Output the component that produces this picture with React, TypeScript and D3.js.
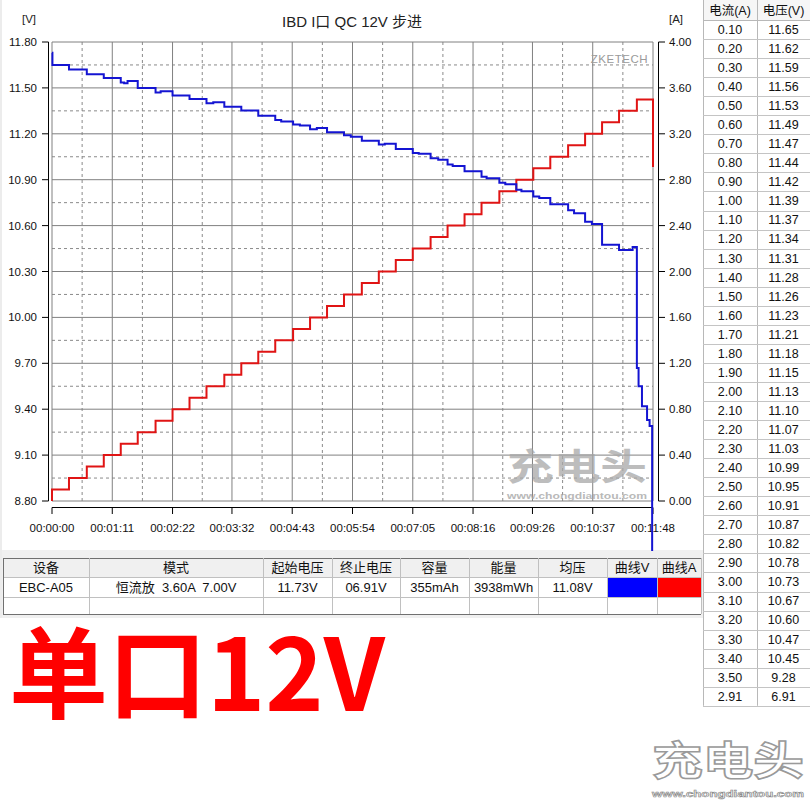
import React from "react";
import * as d3 from "d3";

// ---------- data ----------
const stepTimes = [0, 20, 41, 61, 81, 101, 122, 142, 162, 182, 203, 223, 243, 263, 284, 304, 324, 344, 365, 385, 405, 425, 446, 466, 486, 506, 527, 547, 567, 587, 608, 628, 648, 668, 689];
const stepCurrents = [0.1, 0.2, 0.3, 0.4, 0.5, 0.6, 0.7, 0.8, 0.9, 1.0, 1.1, 1.2, 1.3, 1.4, 1.5, 1.6, 1.7, 1.8, 1.9, 2.0, 2.1, 2.2, 2.3, 2.4, 2.5, 2.6, 2.7, 2.8, 2.9, 3.0, 3.1, 3.2, 3.3, 3.4, 3.5];
const endTime = 708;
const endCurrent = 2.91;

const voltTimes = [0, 0.5, 20, 41, 61, 81, 85, 89, 101, 122, 128, 142, 162, 182, 190, 203, 223, 243, 263, 270, 284, 292, 304, 312, 324, 344, 352, 365, 385, 392, 405, 425, 432, 446, 455, 466, 472, 486, 506, 512, 527, 534, 547, 553, 567, 574, 587, 608, 615, 628, 636, 648, 668, 684, 689, 691, 695, 701, 704, 707, 708];
const voltValues = [11.73, 11.65, 11.62, 11.59, 11.565, 11.535, 11.53, 11.545, 11.5, 11.47, 11.478, 11.45, 11.427, 11.4, 11.406, 11.377, 11.353, 11.318, 11.29, 11.28, 11.26, 11.255, 11.23, 11.238, 11.21, 11.19, 11.18, 11.155, 11.13, 11.135, 11.1, 11.075, 11.07, 11.04, 11.03, 11.0, 10.99, 10.955, 10.92, 10.91, 10.88, 10.87, 10.835, 10.825, 10.79, 10.78, 10.74, 10.7, 10.68, 10.625, 10.61, 10.475, 10.44, 10.46, 9.67, 9.55, 9.42, 9.33, 9.29, 6.91, 6.91];

const leftTicks = [8.8, 9.1, 9.4, 9.7, 10.0, 10.3, 10.6, 10.9, 11.2, 11.5, 11.8];
const rightTicks = [0, 0.4, 0.8, 1.2, 1.6, 2.0, 2.4, 2.8, 3.2, 3.6, 4.0];
const timeTicks = [0, 71, 142, 212, 283, 354, 425, 496, 566, 637, 708];

const tableCurrents = [0.1, 0.2, 0.3, 0.4, 0.5, 0.6, 0.7, 0.8, 0.9, 1.0, 1.1, 1.2, 1.3, 1.4, 1.5, 1.6, 1.7, 1.8, 1.9, 2.0, 2.1, 2.2, 2.3, 2.4, 2.5, 2.6, 2.7, 2.8, 2.9, 3.0, 3.1, 3.2, 3.3, 3.4, 3.5, 2.91];
const tableVolts = [11.65, 11.62, 11.59, 11.56, 11.53, 11.49, 11.47, 11.44, 11.42, 11.39, 11.37, 11.34, 11.31, 11.28, 11.26, 11.23, 11.21, 11.18, 11.15, 11.13, 11.1, 11.07, 11.03, 10.99, 10.95, 10.91, 10.87, 10.82, 10.78, 10.73, 10.67, 10.6, 10.47, 10.45, 9.28, 6.91];

const infoHeaders = ["设备", "模式", "起始电压", "终止电压", "容量", "能量", "均压", "曲线V", "曲线A"];
const infoValues = ["EBC-A05", "恒流放  3.60A  7.00V", "11.73V", "06.91V", "355mAh", "3938mWh", "11.08V", "", ""];

const title = "IBD I口 QC 12V 步进";
const bigLabel = "单口12V";

// ---------- layout ----------
const W = 810, H = 800;
const PL = 52, PR = 653, PT = 42, PB = 501;
const FONT = "'Liberation Sans', Arial, 'Noto Sans CJK SC', sans-serif";
const BLUE = "#1414d2";
const RED = "#e01414";

function fmtTime(s: number) {
  const h = Math.floor(s / 3600), m = Math.floor((s % 3600) / 60), sec = Math.round(s % 60);
  const p = (n: number) => String(n).padStart(2, "0");
  return `${p(h)}:${p(m)}:${p(sec)}`;
}

export default function App() {
  const x = d3.scaleLinear().domain([0, endTime]).range([PL, PR]);
  const yV = d3.scaleLinear().domain([8.8, 11.8]).range([PB, PT]);
  const yA = d3.scaleLinear().domain([0, 4]).range([PB, PT]);

  const redPts: [number, number][] = [[0, 0]];
  stepTimes.forEach((t, i) => redPts.push([t, stepCurrents[i]]));
  redPts.push([endTime, stepCurrents[stepCurrents.length - 1]]);
  redPts.push([endTime, endCurrent]);

  const bluePts: [number, number][] = voltTimes.map((t, i) => [t, voltValues[i]]);

  const redLine = d3.line<[number, number]>().x(d => x(d[0])).y(d => yA(d[1])).curve(d3.curveStepAfter);
  const blueLine = d3.line<[number, number]>().x(d => x(d[0])).y(d => yV(d[1])).curve(d3.curveStepAfter);

  const hMid = leftTicks.slice(0, -1).map((v, i) => (yV(v) + yV(leftTicks[i + 1])) / 2);
  const vMid = timeTicks.slice(0, -1).map((t, i) => (x(t) + x(timeTicks[i + 1])) / 2);

  // bottom info table
  const colX = [3, 89, 263, 332, 400, 469, 538, 607, 657, 701];
  const rowY = [558, 577, 597, 614];

  // right table
  const rtX = [703, 757, 810];
  const rtHeadH = 20, rtRowH = 19.05;

  return (
    <svg width={W} height={H} style={{ position: "absolute", left: 0, top: 0, background: "#fff" }} fontFamily={FONT}>
      <defs>
        <clipPath id="clipBlue"><rect x={0} y={0} width={700} height={551} /></clipPath>
      </defs>
      <rect x={0} y={0} width={W} height={H} fill="#fff" />
      <rect x={0} y={550} width={703} height={68} fill="#f0f0f0" />
      <rect x={0} y={0} width={2} height={618} fill="#ececec" />

      {/* title and units */}
      <text x={352} y={27} textAnchor="middle" fontSize={15} fill="#222">{title}</text>
      <text x={29} y={23} textAnchor="middle" fontSize={11.5} fill="#222">[V]</text>
      <text x={676} y={23} textAnchor="middle" fontSize={11.5} fill="#222">[A]</text>

      {/* grid */}
      {hMid.map((y, i) => <line key={"hm" + i} x1={PL} x2={PR} y1={y} y2={y} stroke="#8a8a8a" strokeDasharray="3,3" />)}
      {vMid.map((xx, i) => <line key={"vm" + i} x1={xx} x2={xx} y1={PT} y2={PB} stroke="#8a8a8a" strokeDasharray="3,3" />)}
      {leftTicks.map((v, i) => <line key={"h" + i} x1={PL} x2={PR} y1={yV(v)} y2={yV(v)} stroke="#808080" />)}
      {timeTicks.map((t, i) => <line key={"v" + i} x1={x(t)} x2={x(t)} y1={PT} y2={PB} stroke="#808080" />)}

      {/* watermarks */}
      <text x={648} y={63} textAnchor="end" fontSize={11.5} fill="#9a9a9a" letterSpacing={0.5}>ZKETECH</text>
      <text x={507} y={480} fontSize={36} fontWeight="bold" fill="#a8a8a8" opacity={0.75} textLength={140} lengthAdjust="spacingAndGlyphs" fontFamily="'Noto Sans CJK SC', sans-serif">充电头</text>
      <text x={507} y={499} fontSize={9} fontWeight="bold" fill="#a8a8a8" opacity={0.8} textLength={140} lengthAdjust="spacingAndGlyphs">www.chongdiantou.com</text>

      {/* axes */}
      <line x1={48.5} x2={48.5} y1={PT} y2={PB} stroke="#000" />
      {leftTicks.map((v, i) => (
        <g key={"lt" + i}>
          <line x1={42} x2={48.5} y1={yV(v)} y2={yV(v)} stroke="#000" />
          <text x={37} y={yV(v)} dy="0.35em" textAnchor="end" fontSize={11.5} fill="#111">{v.toFixed(2)}</text>
        </g>
      ))}
      <line x1={658.5} x2={658.5} y1={PT} y2={PB} stroke="#000" />
      {rightTicks.map((v, i) => (
        <g key={"rt" + i}>
          <line x1={658.5} x2={665} y1={yA(v)} y2={yA(v)} stroke="#000" />
          <text x={669} y={yA(v)} dy="0.35em" textAnchor="start" fontSize={11.5} fill="#111">{v.toFixed(2)}</text>
        </g>
      ))}
      <line x1={PL} x2={PR} y1={507.5} y2={507.5} stroke="#000" />
      {timeTicks.map((t, i) => (
        <g key={"xt" + i}>
          <line x1={x(t)} x2={x(t)} y1={507.5} y2={514} stroke="#000" />
          <text x={x(t)} y={532} textAnchor="middle" fontSize={11.5} fill="#111">{fmtTime(t)}</text>
        </g>
      ))}

      {/* series */}
      <path d={redLine(redPts) || ""} fill="none" stroke={RED} strokeWidth={2} />
      <path d={blueLine(bluePts) || ""} fill="none" stroke={BLUE} strokeWidth={2} clipPath="url(#clipBlue)" />

      {/* bottom info table */}
      <rect x={colX[0]} y={rowY[1]} width={colX[colX.length - 1] - colX[0]} height={rowY[3] - rowY[1]} fill="#fff" />
      <rect x={colX[7] + 1} y={rowY[1] + 1} width={colX[8] - colX[7] - 1} height={rowY[2] - rowY[1] - 1} fill="#0000ff" />
      <rect x={colX[8] + 1} y={rowY[1] + 1} width={colX[9] - colX[8] - 1} height={rowY[2] - rowY[1] - 1} fill="#ff0000" />
      {rowY.map((y, i) => <line key={"br" + i} x1={colX[0]} x2={colX[colX.length - 1]} y1={y + 0.5} y2={y + 0.5} stroke={i === 0 || i === 3 ? "#707070" : "#c0c0c0"} />)}
      {colX.map((cx, i) => <line key={"bc" + i} x1={cx + 0.5} x2={cx + 0.5} y1={rowY[0]} y2={rowY[3]} stroke={i === 0 ? "#707070" : "#c0c0c0"} />)}
      {infoHeaders.map((h, i) => (
        <text key={"ih" + i} x={(colX[i] + colX[i + 1]) / 2} y={567.5} dy="0.35em" textAnchor="middle" fontSize={13} fill="#111">{h}</text>
      ))}
      {infoValues.map((v, i) => (
        <text key={"iv" + i} x={(colX[i] + colX[i + 1]) / 2} y={587} dy="0.35em" textAnchor="middle" fontSize={13} fill="#111" style={{ whiteSpace: "pre" }}>{v}</text>
      ))}

      {/* right table */}
      <rect x={rtX[0]} y={0} width={W - rtX[0]} height={rtHeadH} fill="#f6f6f6" />
      <line x1={rtX[0] + 0.5} x2={rtX[0] + 0.5} y1={0} y2={rtHeadH + rtRowH * tableCurrents.length} stroke="#b8b8b8" />
      <line x1={rtX[1] + 0.5} x2={rtX[1] + 0.5} y1={0} y2={rtHeadH + rtRowH * tableCurrents.length} stroke="#b8b8b8" />
      <text x={(rtX[0] + rtX[1]) / 2} y={rtHeadH / 2 + 1} dy="0.35em" textAnchor="middle" fontSize={12.5} fill="#111">电流(A)</text>
      <text x={(rtX[1] + rtX[2]) / 2} y={rtHeadH / 2 + 1} dy="0.35em" textAnchor="middle" fontSize={12.5} fill="#111">电压(V)</text>
      <line x1={rtX[0]} x2={W} y1={rtHeadH + 0.5} y2={rtHeadH + 0.5} stroke="#b8b8b8" />
      {tableCurrents.map((c, i) => {
        const y0 = rtHeadH + rtRowH * i;
        return (
          <g key={"rr" + i}>
            <text x={(rtX[0] + rtX[1]) / 2} y={y0 + rtRowH / 2} dy="0.35em" textAnchor="middle" fontSize={12.5} fill="#111">{c.toFixed(2)}</text>
            <text x={(rtX[1] + rtX[2]) / 2} y={y0 + rtRowH / 2} dy="0.35em" textAnchor="middle" fontSize={12.5} fill="#111">{tableVolts[i].toFixed(2)}</text>
            <line x1={rtX[0]} x2={W} y1={Math.round(y0 + rtRowH) + 0.5} y2={Math.round(y0 + rtRowH) + 0.5} stroke="#c4c4c4" />
          </g>
        );
      })}

      {/* big label */}
      <text x={9} y={711} fontSize={100} fontWeight="bold" fill="#ff0000" textLength={376} lengthAdjust="spacingAndGlyphs" fontFamily="'Noto Sans CJK SC', 'Liberation Sans', sans-serif">{bigLabel}</text>

      {/* bottom-right logo */}
      <text x={652} y={775} fontSize={40} fontWeight="bold" fill="#fff" stroke="#9a9a9a" strokeWidth={1.5} textLength={152} lengthAdjust="spacingAndGlyphs" fontFamily="'Noto Sans CJK SC', sans-serif">充电头</text>
      <text x={652} y={797} fontSize={9.5} fontWeight="bold" fill="#fff" stroke="#8a8a8a" strokeWidth={0.6} textLength={152} lengthAdjust="spacingAndGlyphs">www.chongdiantou.com</text>
    </svg>
  );
}
